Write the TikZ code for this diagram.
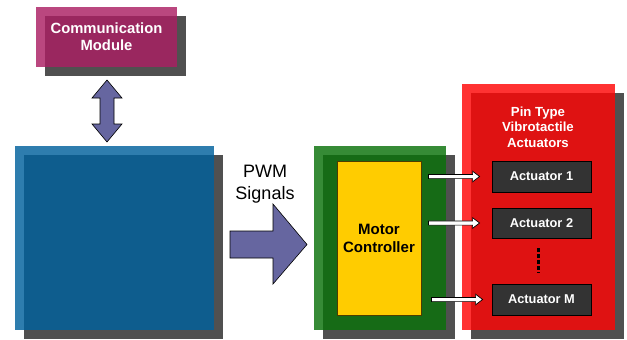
\documentclass[tikz,border=0pt]{standalone}
\usepackage{fontspec}
\setmainfont{Liberation Sans}
\usetikzlibrary{shadows,calc}
\definecolor{shd}{HTML}{505050}
\definecolor{commc}{HTML}{AB1F63}
\definecolor{bluec}{HTML}{00609C}
\definecolor{greenc}{HTML}{0A720A}
\definecolor{redc}{HTML}{FF0505}
\definecolor{yelc}{HTML}{FFCC00}
\definecolor{arrc}{HTML}{6666A0}
\definecolor{actc}{HTML}{333333}
\tikzset{
  box/.style={rectangle, inner sep=0pt, fill opacity=0.82, text opacity=1,
    drop shadow={shadow xshift=9pt, shadow yshift=-9pt, fill=shd, opacity=1}},
  lbl/.style={text=white, align=center},
  actbox/.style={rectangle, inner sep=0pt, fill=actc, draw=black, line width=0.8pt,
    minimum width=99pt, text=white, font=\bfseries\fontsize{12.8}{15}\selectfont},
  warrow/.style={fill=white, draw=black, line width=0.7pt, line join=miter},
  bigarrow/.style={fill=arrc, draw=black, line width=0.6pt},
  dotline/.style={draw=black, line width=3pt, dash pattern=on 3.5pt off 2.5pt},
}
\newcommand\wharrow[2]{%
  \draw[warrow] ($(#1)+(0,2.1)$) -- ($(#2)+(-7,2.1)$) -- ($(#2)+(-7,5.3)$) -- (#2)
    -- ($(#2)+(-7,-5.3)$) -- ($(#2)+(-7,-2.1)$) -- ($(#1)+(0,-2.1)$) -- cycle;}
\begin{document}
\begin{tikzpicture}[x=1pt,y=-1pt]
\useasboundingbox (0,0) rectangle (627,340);

% Communication module
\node[box, fill=commc, minimum width=141pt, minimum height=60pt,
      lbl, font=\bfseries\fontsize{14.8}{17}\selectfont] (comm) at (106.5,37)
      {Communication\\Module};

% Blue block
\node[box, fill=bluec, minimum width=199pt, minimum height=184pt] (blue) at (114.5,238) {};

% Green block and motor controller
\node[box, fill=greenc, minimum width=132pt, minimum height=184pt] (green) at (380,238) {};
\node[rectangle, inner sep=0pt, fill=yelc, draw=black!70!yelc, line width=0.8pt,
      minimum width=84pt, minimum height=154pt, align=center,
      font=\bfseries\fontsize{15}{18}\selectfont] (mc) at (379,238) {Motor\\Controller};

% Red block
\node[box, fill=redc, minimum width=153pt, minimum height=246pt] (red) at (538.5,207) {};
\node[lbl, font=\bfseries\fontsize{13.2}{15.5}\selectfont] (title) at (538,127)
      {Pin Type\\Vibrotactile\\Actuators};

% Actuators
\node[actbox, minimum height=31pt] (act1) at (541.5,176.5) {Actuator 1};
\node[actbox, minimum height=30pt] (act2) at (541.5,223) {Actuator 2};
\node[actbox, minimum height=31pt] (actM) at (541.5,299.5) {Actuator M};
\draw[dotline] ([xshift=-3.5pt,yshift=-10pt]act2.south) -- ([xshift=-3.5pt,yshift=11pt]actM.north);

% White arrows
\coordinate (s1) at ($(mc.east |- act1.west)+(7,0)$);
\coordinate (e1) at ($(act1.west)+(-12,0)$);
\coordinate (s2) at ($(mc.east |- act2.west)+(7,0)$);
\coordinate (e2) at ($(act2.west)+(-12,0)$);
\coordinate (s3) at ($(mc.east |- actM.west)+(10,0)$);
\coordinate (e3) at ($(actM.west)+(-9,0)$);
\wharrow{s1}{e1}
\wharrow{s2}{e2}
\wharrow{s3}{e3}

% Double arrow between communication module and blue block
\draw[bigarrow] (107,80) -- (122,98) -- (114,98) -- (114,124) -- (122,124) -- (107,142)
  -- (92,124) -- (100,124) -- (100,98) -- (92,98) -- cycle;

% PWM arrow
\node[align=center, font=\fontsize{18}{22}\selectfont] (pwm) at (265,184) {PWM\\Signals};
\draw[bigarrow] (230,231) -- (273,231) -- (273,204) -- (307,244.5) -- (273,284) -- (273,258)
  -- (230,258) -- cycle;
\end{tikzpicture}
\end{document}
